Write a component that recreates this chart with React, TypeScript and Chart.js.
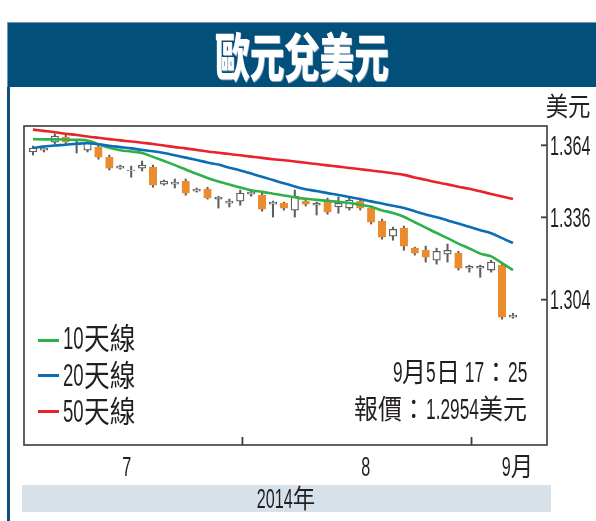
import React, { useEffect, useRef } from "react";
import { Chart, registerables } from "chart.js";

Chart.register(...registerables);

// ---------- data ----------
const dates = [
  "7/4", "7/7", "7/8", "7/9", "7/10", "7/11", "7/14", "7/15", "7/16", "7/17",
  "7/18", "7/21", "7/22", "7/23", "7/24", "7/25", "7/28", "7/29", "7/30", "7/31",
  "8/1", "8/4", "8/5", "8/6", "8/7", "8/8", "8/11", "8/12", "8/13", "8/14",
  "8/15", "8/18", "8/19", "8/20", "8/21", "8/22", "8/25", "8/26", "8/27", "8/28",
  "8/29", "9/2", "9/3", "9/4", "9/5",
];
const opens = [
  1.3614, 1.3621, 1.3652, 1.3672, 1.3641, 1.3621, 1.3633, 1.3594, 1.3551, 1.354,
  1.3551, 1.3555, 1.3489, 1.3489, 1.3501, 1.3462, 1.347, 1.3431, 1.3415, 1.3423,
  1.345, 1.3446, 1.3411, 1.3415, 1.3388, 1.3423, 1.3407, 1.3427, 1.34, 1.3396,
  1.3423, 1.3396, 1.3345, 1.3287, 1.3318, 1.324, 1.3232, 1.3193, 1.3217, 1.3221,
  1.3162, 1.3162, 1.3155, 1.3174, 1.2972,
];
const closes = [
  1.3629, 1.3629, 1.3676, 1.3652, 1.3649, 1.3649, 1.3594, 1.3551, 1.3559, 1.3544,
  1.3563, 1.3485, 1.3501, 1.3497, 1.3454, 1.347, 1.3435, 1.3439, 1.3423, 1.3454,
  1.3458, 1.3392, 1.3419, 1.3396, 1.3442, 1.3411, 1.3415, 1.338, 1.3415, 1.3427,
  1.3396, 1.3341, 1.3283, 1.3314, 1.3248, 1.3221, 1.3205, 1.3228, 1.3232, 1.3162,
  1.317, 1.317, 1.3186, 1.2972, 1.298,
];
const highs = [
  1.3637, 1.3637, 1.3684, 1.368, 1.3656, 1.3656, 1.3641, 1.3602, 1.3563, 1.3559,
  1.3579, 1.3563, 1.3505, 1.3509, 1.3509, 1.3474, 1.3477, 1.3442, 1.3431, 1.3466,
  1.3466, 1.3454, 1.3423, 1.3419, 1.3466, 1.3431, 1.3419, 1.3435, 1.3439, 1.3439,
  1.3431, 1.3404, 1.3353, 1.3322, 1.3326, 1.3244, 1.3248, 1.324, 1.3256, 1.3228,
  1.3174, 1.3174, 1.3193, 1.3182, 1.2987,
];
const lows = [
  1.3602, 1.3614, 1.3645, 1.3645, 1.361, 1.3614, 1.3586, 1.3544, 1.3547, 1.3516,
  1.354, 1.3477, 1.3485, 1.3474, 1.3446, 1.3458, 1.3431, 1.3396, 1.34, 1.3407,
  1.3442, 1.3384, 1.3361, 1.3388, 1.3361, 1.3404, 1.3369, 1.3372, 1.3376, 1.3388,
  1.3388, 1.3334, 1.3275, 1.3271, 1.3232, 1.3213, 1.3186, 1.3178, 1.3186, 1.3155,
  1.3147, 1.3127, 1.3147, 1.2964, 1.2968,
];
const ma10 = [
  1.3664, 1.3663, 1.3663, 1.3662, 1.3661, 1.3659, 1.3644, 1.363, 1.3621, 1.3616,
  1.361, 1.3595, 1.3579, 1.3563, 1.3546, 1.3529, 1.3513, 1.3499, 1.3488, 1.3476,
  1.3465, 1.3459, 1.3452, 1.3445, 1.3438, 1.3432, 1.3428, 1.3424, 1.342, 1.3416,
  1.3409, 1.3401, 1.3387, 1.3377, 1.3362, 1.3341, 1.332, 1.3299, 1.3279, 1.3258,
  1.3239, 1.3219, 1.3208, 1.3182, 1.3155,
];
const ma20 = [
  1.363, 1.3635, 1.3639, 1.3642, 1.3646, 1.3648, 1.3644, 1.3638, 1.3633, 1.3628,
  1.3622, 1.3617, 1.361, 1.3601, 1.3592, 1.3583, 1.3573, 1.3565, 1.3553, 1.3542,
  1.353, 1.3518, 1.3505, 1.3492, 1.348, 1.3469, 1.3462, 1.3454, 1.3447, 1.3439,
  1.3431, 1.3422, 1.3414, 1.3405, 1.3396, 1.3384, 1.3371, 1.336, 1.3348, 1.3336,
  1.3323, 1.331, 1.3298, 1.3279, 1.326,
];
const ma50 = [
  1.3701, 1.3696, 1.3691, 1.3685, 1.368, 1.3674, 1.3669, 1.3664, 1.3659, 1.3655,
  1.365, 1.3645, 1.3639, 1.3633, 1.3628, 1.3622, 1.3616, 1.3611, 1.3606, 1.3601,
  1.3596, 1.3591, 1.3586, 1.3582, 1.3577, 1.3572, 1.3567, 1.3562, 1.3557, 1.3552,
  1.3547, 1.3542, 1.3537, 1.3531, 1.3525, 1.3515, 1.3506, 1.3496, 1.3488, 1.3479,
  1.3471, 1.3461, 1.3451, 1.3441, 1.3431,
];
const yTickValues = [1.304, 1.336, 1.364];
const monthLabels = ["7", "8", "9月"];
const monthLabelAt = [8.6, 30.5, 44.4];
const monthBoundaryAt = [19.2, 40.2];
const legendLabels = ["10天線", "20天線", "50天線"];
const legendColors = ["#2eb04b", "#0b6db5", "#e8232b"];
const titleText = "歐元兌美元";
const unitLabel = "美元";
const quoteTime = "9月5日 17：25";
const quoteText = "報價：1.2954美元";
const yearLabel = "2014年";

// ---------- text helpers (condensed newspaper type) ----------
const LATIN_FAMILY = '"Liberation Sans", Arial, sans-serif';
const CJK_FAMILY = '"Noto Sans CJK TC", "Noto Sans CJK SC", sans-serif';
const LATIN_SIZE = 27;
const CJK_SIZE = 26;
const LATIN_SCALE = 0.6;
const CJK_SCALE = 0.86;
const TEXT_COLOR = "#231f20";

type Run = { text: string; latin: boolean };
function splitRuns(text: string): Run[] {
  const out: Run[] = [];
  const re = /[\x20-\x7E]+|[^\x20-\x7E]+/g;
  let m: RegExpExecArray | null;
  while ((m = re.exec(text))) out.push({ text: m[0], latin: /^[\x20-\x7E]/.test(m[0]) });
  return out;
}
function runFont(latin: boolean, k = 1) {
  return `${(latin ? LATIN_SIZE : CJK_SIZE) * k}px ${latin ? LATIN_FAMILY : CJK_FAMILY}`;
}
let measureCtx: CanvasRenderingContext2D | null = null;
function measureRun(r: Run, k = 1) {
  if (!measureCtx) measureCtx = document.createElement("canvas").getContext("2d");
  measureCtx!.font = runFont(r.latin, k);
  return measureCtx!.measureText(r.text).width * (r.latin ? LATIN_SCALE : CJK_SCALE);
}
function drawRuns(ctx: CanvasRenderingContext2D, text: string, x: number, yc: number, align: string) {
  const runs = splitRuns(text);
  const total = runs.reduce((s, r) => s + measureRun(r), 0);
  let cx = align === "left" ? x : align === "right" ? x - total : x - total / 2;
  ctx.save();
  ctx.fillStyle = TEXT_COLOR;
  ctx.textBaseline = "alphabetic";
  ctx.textAlign = "left";
  for (const r of runs) {
    const s = r.latin ? LATIN_SCALE : CJK_SCALE;
    ctx.save();
    ctx.translate(cx, yc + 9.7);
    ctx.scale(s, 1);
    ctx.font = runFont(r.latin);
    ctx.fillText(r.text, 0, 0);
    ctx.restore();
    cx += measureRun(r);
  }
  ctx.restore();
}

function CondText({ text, x, yc, align = "left", k = 1 }: { text: string; x: number; yc: number; align?: string; k?: number }) {
  const runs = splitRuns(text);
  const lh = 30 * k;
  const pos: React.CSSProperties = {
    position: "absolute",
    top: yc - 16.5 * k,
    whiteSpace: "pre",
    font: `${CJK_SIZE * k}px/${lh}px ${CJK_FAMILY}`,
    color: TEXT_COLOR,
  };
  if (align === "left") pos.left = x;
  else if (align === "right") pos.right = 596 - x;
  else {
    pos.left = x;
    pos.transform = "translateX(-50%)";
  }
  return (
    <div style={pos}>
      {runs.map((r, i) => (
        <span
          key={i}
          style={{
            display: "inline-block",
            width: measureRun(r, k),
            font: `${(r.latin ? LATIN_SIZE : CJK_SIZE) * k}px/${lh}px ${r.latin ? LATIN_FAMILY : CJK_FAMILY}`,
          }}
        >
          <span
            style={{
              display: "inline-block",
              transform: `scaleX(${r.latin ? LATIN_SCALE : CJK_SCALE})`,
              transformOrigin: "0 0",
            }}
          >
            {r.text}
          </span>
        </span>
      ))}
    </div>
  );
}

// ---------- chart plugin: frame, inward ticks, condensed tick labels ----------
const framePlugin = {
  id: "newsFrame",
  afterDraw(chart: any) {
    const { ctx, chartArea: a } = chart;
    const xs = chart.scales.x;
    const ys = chart.scales.y;
    ctx.save();
    ctx.strokeStyle = "#3b3b3b";
    ctx.lineWidth = 1.6;
    ctx.strokeRect(a.left, a.top, a.right - a.left, a.bottom - a.top);
    ctx.lineWidth = 1.8;
    ys.ticks.forEach((t: any) => {
      const py = ys.getPixelForValue(t.value);
      ctx.beginPath();
      ctx.moveTo(a.right - 6, py);
      ctx.lineTo(a.right, py);
      ctx.stroke();
      drawRuns(ctx, String(t.label), a.right + 3, py, "left");
    });
    xs.ticks.forEach((t: any) => {
      const px = xs.getPixelForValue(t.value);
      if (!t.label) {
        ctx.beginPath();
        ctx.moveTo(px, a.bottom - 8);
        ctx.lineTo(px, a.bottom);
        ctx.stroke();
      } else {
        drawRuns(ctx, String(t.label), px, a.bottom + 21, "center");
      }
    });
    ctx.restore();
  },
};

const UP_FILL = "#ffffff";
const UP_LINE = "#5e5e5e";
const DOWN_FILL = "#ea8b2d";

export default function App() {
  const canvasRef = useRef<HTMLCanvasElement>(null);

  useEffect(() => {
    const isUp = (i: number) => closes[i] >= opens[i];
    const lineDs = (label: string, values: number[], color: string) => ({
      type: "line" as const,
      label,
      data: values.map((v, i) => ({ x: i, y: v })),
      borderColor: color,
      borderWidth: 2.6,
      pointRadius: 0,
      tension: 0.35,
      order: 0,
    });
    const chart = new Chart(canvasRef.current!, {
      type: "bar",
      data: {
        labels: dates,
        datasets: [
          lineDs("50天線", ma50, legendColors[2]),
          lineDs("20天線", ma20, legendColors[1]),
          lineDs("10天線", ma10, legendColors[0]),
          {
            type: "bar",
            label: "body",
            data: dates.map((_, i) => ({ x: i, y: [opens[i], closes[i]] })) as any,
            backgroundColor: dates.map((_, i) => (isUp(i) ? UP_FILL : DOWN_FILL)),
            borderColor: dates.map((_, i) => (isUp(i) ? UP_LINE : DOWN_FILL)),
            borderWidth: 1.3,
            borderSkipped: false,
            barThickness: 7.5,
            grouped: false,
            order: 1,
          },
          {
            type: "bar",
            label: "wick",
            data: dates.map((_, i) => ({ x: i, y: [lows[i], highs[i]] })) as any,
            backgroundColor: UP_LINE,
            borderWidth: 0,
            barThickness: 1.4,
            grouped: false,
            order: 2,
          },
        ],
      },
      options: {
        animation: false,
        responsive: false,
        layout: { padding: { left: 24, top: 126, right: 0, bottom: 0 } },
        plugins: { legend: { display: false }, tooltip: { enabled: false } },
        scales: {
          x: {
            type: "linear",
            min: -0.825,
            max: 47.12,
            offset: false,
            grid: { display: false },
            border: { display: false },
            ticks: {
              display: false,
              callback: (v: any) => {
                const k = monthLabelAt.indexOf(Number(v));
                return k >= 0 ? monthLabels[k] : "";
              },
            },
            afterBuildTicks: (s: any) => {
              s.ticks = [...monthBoundaryAt, ...monthLabelAt].map((v) => ({ value: v }));
            },
            afterFit: (s: any) => {
              s.height = 76;
            },
          },
          y: {
            type: "linear",
            position: "right",
            min: 1.2475,
            max: 1.3715,
            beginAtZero: false,
            grid: { display: false },
            border: { display: false },
            ticks: { display: false, callback: (v: any) => Number(v).toFixed(3) },
            afterBuildTicks: (s: any) => {
              s.ticks = yTickValues.map((v) => ({ value: v }));
            },
            afterFit: (s: any) => {
              s.width = 49;
            },
          },
        },
      } as any,
      plugins: [framePlugin],
    });
    return () => chart.destroy();
  }, []);

  return (
    <div style={{ position: "absolute", left: 0, top: 0, width: 596, height: 521, background: "#fff", overflow: "hidden" }}>
      <canvas
        ref={canvasRef}
        width={596}
        height={521}
        style={{ position: "absolute", left: 0, top: 0, width: 596, height: 521 }}
      />
      {/* title band */}
      <div
        style={{
          position: "absolute",
          left: 7,
          top: 22,
          width: 589,
          height: 65,
          background: "#024f79",
          borderTop: "1px solid #6f98b5",
          borderLeft: "1px solid #6f98b5",
          boxSizing: "border-box",
          textAlign: "center",
          lineHeight: "63px",
        }}
      >
        <span
          style={{
            display: "inline-block",
            color: "#ffffff",
            font: `900 52px/63px ${CJK_FAMILY}`,
            transform: "scaleX(0.67)",
            letterSpacing: "0px",
            textShadow: "1px 1px 0 #8aa7bd",
          }}
        >
          {titleText}
        </span>
      </div>
      {/* left frame bar */}
      <div style={{ position: "absolute", left: 7, top: 87, width: 3, height: 434, background: "#0d4f7c" }} />
      {/* unit */}
      <CondText text={unitLabel} x={568} yc={106} align="center" />
      {/* legend */}
      {legendLabels.map((lab, i) => (
        <React.Fragment key={lab}>
          <div
            style={{
              position: "absolute",
              left: 38,
              top: [340, 375, 411][i] - 1.5,
              width: 21,
              height: 3,
              background: legendColors[i],
            }}
          />
          <CondText text={lab} x={63} yc={[338, 375, 411][i]} k={1.15} />
        </React.Fragment>
      ))}
      {/* quote */}
      <CondText text={quoteTime} x={527} yc={372} align="right" k={1.07} />
      <CondText text={quoteText} x={527} yc={409} align="right" k={1.07} />
      {/* year band */}
      <div style={{ position: "absolute", left: 22, top: 485, width: 529, height: 27, background: "#d6e1ea" }} />
      <CondText text={yearLabel} x={286} yc={498} align="center" />
    </div>
  );
}
